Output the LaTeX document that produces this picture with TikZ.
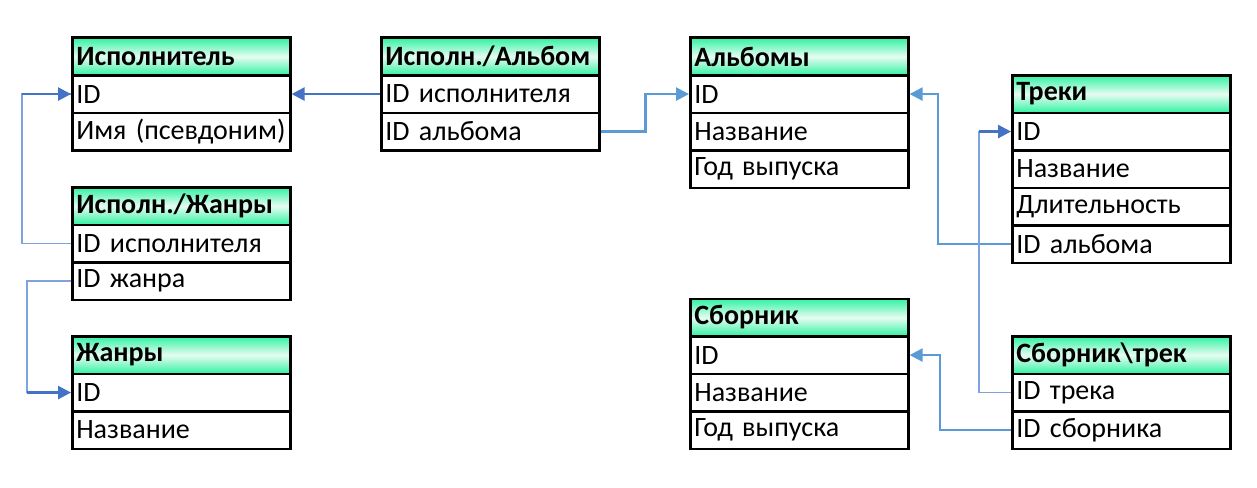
\documentclass[tikz,border=0pt]{standalone}
\usepackage{fontspec}
\setmainfont{Carlito}
\usetikzlibrary{arrows.meta,calc}
\definecolor{hdrgreen}{HTML}{30F2A2}
\definecolor{hdrlight}{HTML}{E6FCF1}
\definecolor{cdark}{HTML}{4472C4}
\definecolor{clight}{HTML}{5B9BD5}
\definecolor{cthin}{HTML}{7FA3DE}
\tikzset{
  tabbase/.style={draw=black, line width=2.6pt, anchor=north west,
    minimum height=37.5pt, text width=210pt, inner xsep=4pt, inner ysep=0pt,
    align=left, font=\fontsize{28}{28}\selectfont},
  hdr/.style={tabbase, font=\bfseries\fontsize{28}{28}\selectfont,
    top color=hdrgreen, bottom color=hdrgreen, middle color=hdrlight},
  rowbox/.style={tabbase, fill=white},
  tip/.style={-{Triangle[length=13pt,width=13pt]}},
  connlight/.style={draw=clight, line width=2.4pt, tip},
  conndark/.style={draw=cdark, line width=2.6pt, tip},
  connthin/.style={draw=cthin, line width=1.3pt},
}
\newcommand\erdtable[5]{%
  \node[hdr] (#1) at (#2,#3) {#4};
  \foreach \r [count=\i] in {#5} {
    \node[rowbox] (#1-\i) at (#2,#3+\i*37.5) {\r};
  }
}
\begin{document}
\begin{tikzpicture}[x=1pt,y=-1pt]
\useasboundingbox (0,0) rectangle (1257,487);
\fill[white] (0,0) rectangle (1257,487);

\erdtable{isp}{71}{36.5}{Исполнитель}{ID,Имя (псевдоним)}
\erdtable{ia}{380}{36.5}{Исполн./Альбом}{ID исполнителя,ID альбома}
\erdtable{alb}{689}{36.5}{Альбомы}{ID,Название,Год выпуска}
\erdtable{tr}{1011}{74}{Треки}{ID,Название,Длительность,ID альбома}
\erdtable{ig}{71}{186}{Исполн./Жанры}{ID исполнителя,ID жанра}
\erdtable{zh}{71}{335}{Жанры}{ID,Название}
\erdtable{sb}{689}{297.5}{Сборник}{ID,Название,Год выпуска}
\erdtable{st}{1011}{335}{Сборник\textbackslash трек}{ID трека,ID сборника}

% Исполн./Альбом -> Исполнитель
\draw[conndark] (ia-1.west) -- (isp-1.east);
% Исполн./Альбом -> Альбомы
\draw[connlight] (ia-2.east) -- ++(45,0) |- (alb-1.west);
% Треки -> Альбомы
\draw[connlight] (tr-4.west) -- ++(-73,0) |- (alb-1.east);
% Сборник\трек -> Сборник
\draw[connlight] (st-2.west) -- ++(-71,0) |- (sb-1.east);

% Исполн./Жанры -> Исполнитель
\draw[connthin] (ig-1.west) -- ++(-49,0) |- (isp-1.west);
\draw[conndark] ($(isp-1.west)+(-49,0)$) -- (isp-1.west);
% Исполн./Жанры -> Жанры
\draw[connthin] (ig-2.west) -- ++(-44,0) |- (zh-1.west);
\draw[conndark] ($(zh-1.west)+(-44,0)$) -- (zh-1.west);
% Сборник\трек -> Треки
\draw[connthin] (st-1.west) -- ++(-32,0) |- (tr-1.west);
\draw[conndark] ($(tr-1.west)+(-32,0)$) -- (tr-1.west);
\end{tikzpicture}
\end{document}
